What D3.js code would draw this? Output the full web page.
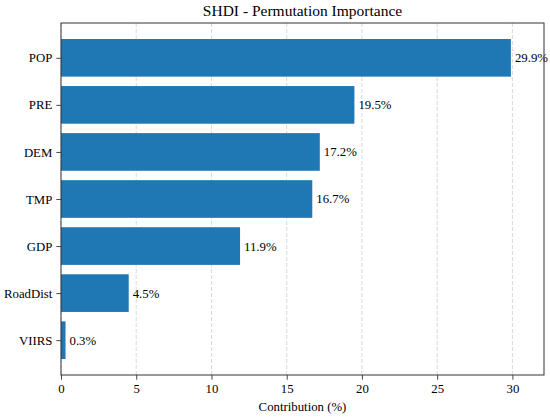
<!DOCTYPE html>
<html>
<head>
<meta charset="utf-8">
<script src="https://cdn.jsdelivr.net/npm/d3@7"></script>
<style>
  body { margin: 0; background: #fff; }
  svg { display: block; font-family: "Liberation Serif", "Times New Roman", serif; }
</style>
</head>
<body>
<div id="chart"></div>
<script>
// Feature names, top to bottom
const features = ["POP", "PRE", "DEM", "TMP", "GDP", "RoadDist", "VIIRS"];
// Permutation importance contributions (%)
const contributions = [29.9, 19.5, 17.2, 16.7, 11.9, 4.5, 0.3];
const xTicks = [0, 5, 10, 15, 20, 25, 30];

const width = 550, height = 418;
const marginTop = 23, marginRight = 6, marginBottom = 43, marginLeft = 61;
const barColor = "#1f77b4";

const x = d3.scaleLinear()
    .domain([0, 32.1])
    .range([marginLeft, width - marginRight]);

// matplotlib-style categorical axis: bars of height 0.8 with 5% margins
const pos = d3.scaleLinear()
    .domain([-0.74, features.length - 1 + 0.74])
    .range([marginTop, height - marginBottom]);
const barH = pos(0.4) - pos(-0.4);

const svg = d3.select("#chart").append("svg")
    .attr("width", width)
    .attr("height", height)
    .attr("viewBox", [0, 0, width, height]);

// grid
svg.append("g")
    .selectAll("line")
    .data(xTicks)
    .join("line")
    .attr("x1", d => x(d))
    .attr("x2", d => x(d))
    .attr("y1", marginTop)
    .attr("y2", height - marginBottom)
    .attr("stroke", "#cfcfcf")
    .attr("stroke-width", 0.8)
    .attr("stroke-dasharray", "4,2");

// bars
svg.append("g")
    .attr("fill", barColor)
    .selectAll("rect")
    .data(features)
    .join("rect")
    .attr("x", x(0))
    .attr("y", (d, i) => pos(i) - barH / 2)
    .attr("width", (d, i) => x(contributions[i]) - x(0))
    .attr("height", barH);

// value labels
svg.append("g")
    .attr("font-size", 12.8)
    .attr("fill", "#000")
    .selectAll("text")
    .data(features)
    .join("text")
    .attr("x", (d, i) => x(contributions[i]) + 4)
    .attr("y", (d, i) => pos(i))
    .attr("dy", "0.35em")
    .text((d, i) => contributions[i].toFixed(1) + "%");

const styleAxis = g => g
    .attr("font-family", null)
    .attr("font-size", 12.8)
    .call(g => g.select(".domain").remove())
    .call(g => g.selectAll(".tick line").attr("stroke", "#333").attr("stroke-width", 0.9))
    .call(g => g.selectAll(".tick text").attr("fill", "#000"));

// x axis
svg.append("g")
    .attr("transform", `translate(0,${height - marginBottom})`)
    .call(d3.axisBottom(x).tickValues(xTicks).tickSize(4.7).tickPadding(4))
    .call(styleAxis);

// y axis
svg.append("g")
    .attr("transform", `translate(${marginLeft},0)`)
    .call(d3.axisLeft(d3.scalePoint().domain(features).range([pos(0), pos(features.length - 1)]))
        .tickSize(4.7).tickPadding(4))
    .call(styleAxis);

// frame
svg.append("rect")
    .attr("x", marginLeft)
    .attr("y", marginTop)
    .attr("width", width - marginRight - marginLeft)
    .attr("height", height - marginBottom - marginTop)
    .attr("fill", "none")
    .attr("stroke", "#333")
    .attr("stroke-width", 1);

// title
svg.append("text")
    .attr("x", (marginLeft + width - marginRight) / 2)
    .attr("y", 16)
    .attr("text-anchor", "middle")
    .attr("font-size", 15.5)
    .text("SHDI - Permutation Importance");

// x label
svg.append("text")
    .attr("x", (marginLeft + width - marginRight) / 2)
    .attr("y", 411)
    .attr("text-anchor", "middle")
    .attr("font-size", 12.8)
    .text("Contribution (%)");
</script>
</body>
</html>
